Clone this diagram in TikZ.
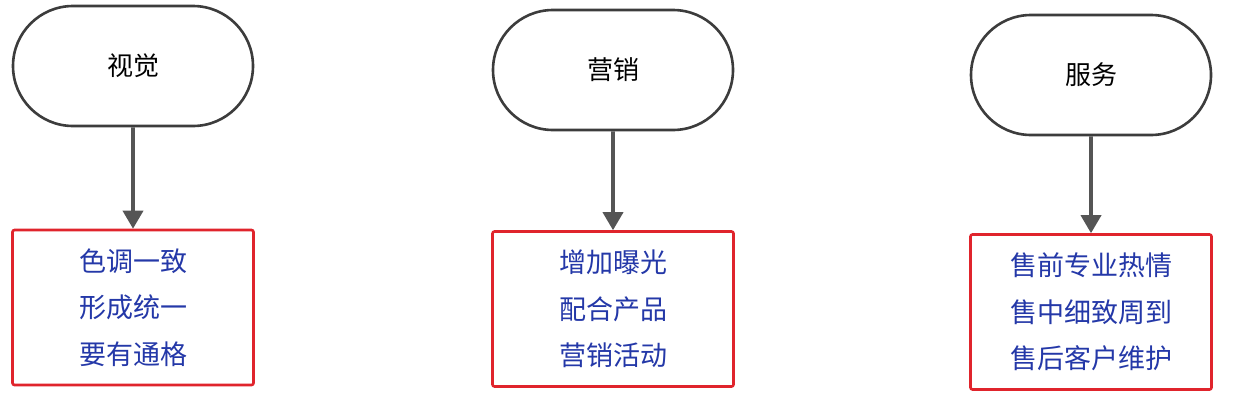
\documentclass[tikz,border=0pt]{standalone}
\usepackage{fontspec}
\newfontfamily\cjk{Noto Sans CJK SC}
\usetikzlibrary{shapes.misc,arrows.meta}
\definecolor{bluetxt}{HTML}{2438A8}
\definecolor{redbox}{HTML}{E0242C}
\definecolor{stroke}{HTML}{3C3C3C}
\definecolor{arrowc}{HTML}{555555}
\begin{document}
\begin{tikzpicture}[x=1pt,y=-1pt,
  term/.style={rounded rectangle, draw=stroke, line width=2.6pt, minimum width=240pt, minimum height=120pt, inner sep=0pt, font=\cjk\fontsize{26}{30}\selectfont, text=black},
  redbox/.style={rectangle, draw=redbox, line width=2.6pt, rounded corners=2pt, minimum width=241pt, minimum height=155pt, inner sep=0pt, align=center, font=\cjk\fontsize{27}{46.5}\selectfont, text=bluetxt},
  conn/.style={draw=arrowc, line width=3.6pt, -{Triangle[width=20pt,length=18pt]}}]
\useasboundingbox[fill=white] (0,0) rectangle (1236,408);
\node[term] (t1) at (133,66) {视觉};
\node[term] (t2) at (613,70) {营销};
\node[term] (t3) at (1091,75) {服务};
\node[redbox] (b1) at (133,307.5) {色调一致\\形成统一\\要有通格};
\node[redbox] (b2) at (613,309) {增加曝光\\配合产品\\营销活动};
\node[redbox] (b3) at (1091,312) {售前专业热情\\售中细致周到\\售后客户维护};
\draw[conn] (t1) -- (b1);
\draw[conn] (t2) -- (b2);
\draw[conn] (t3) -- (b3);
\end{tikzpicture}
\end{document}
